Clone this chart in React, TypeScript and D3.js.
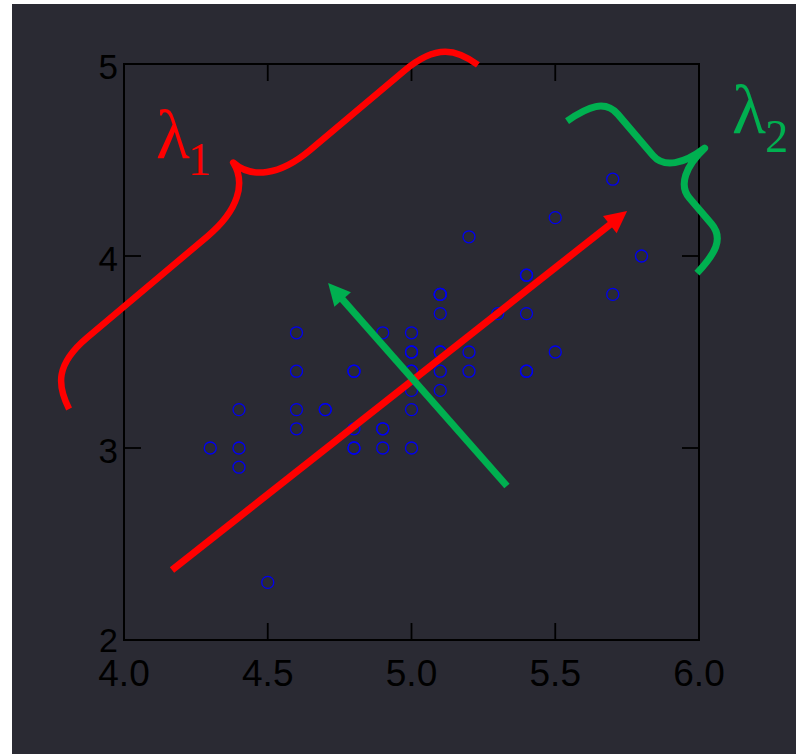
import React from "react";
import * as d3 from "d3";

// Iris setosa: sepal length (x) vs sepal width (y)
const sepalLength = [
  5.1, 4.9, 4.7, 4.6, 5.0, 5.4, 4.6, 5.0, 4.4, 4.9,
  5.4, 4.8, 4.8, 4.3, 5.8, 5.7, 5.4, 5.1, 5.7, 5.1,
  5.4, 5.1, 4.6, 5.1, 4.8, 5.0, 5.0, 5.2, 5.2, 4.7,
  4.8, 5.4, 5.2, 5.5, 4.9, 5.0, 5.5, 4.9, 4.4, 5.1,
  5.0, 4.5, 4.4, 5.0, 5.1, 4.8, 5.1, 4.6, 5.3, 5.0,
];
const sepalWidth = [
  3.5, 3.0, 3.2, 3.1, 3.6, 3.9, 3.4, 3.4, 2.9, 3.1,
  3.7, 3.4, 3.0, 3.0, 4.0, 4.4, 3.9, 3.5, 3.8, 3.8,
  3.4, 3.7, 3.6, 3.3, 3.4, 3.0, 3.4, 3.5, 3.4, 3.2,
  3.1, 3.4, 4.1, 4.2, 3.1, 3.2, 3.5, 3.6, 3.0, 3.4,
  3.5, 2.3, 3.2, 3.5, 3.8, 3.0, 3.8, 3.2, 3.7, 3.3,
];

const xTicks = [4.0, 4.5, 5.0, 5.5, 6.0];
const xTickLabels = ["4.0", "4.5", "5.0", "5.5", "6.0"];
const yTicks = [2, 3, 4, 5];
const yTickLabels = ["2", "3", "4", "5"];

// principal-component arrows (data coordinates): [x0, y0, x1, y1]
const arrowPC1 = [4.167, 2.365, 5.75, 4.234];
const arrowPC2 = [5.332, 2.802, 4.71, 3.859];
// braces (data coordinates): [xA, yA, xB, yB]
const bracePC1 = [3.809, 3.203, 5.231, 4.995];
const bracePC2 = [5.541, 4.703, 5.993, 3.911];

const W = 796;
const H = 754;
const RED = "#ff0000";
const GREEN = "#00b050";
const BG = "#2a2a33";

const x = d3.scaleLinear().domain([4, 6]).range([124, 699]);
const y = d3.scaleLinear().domain([2, 5]).range([640, 64]);

function arrowParts(a: number[], headLen: number, headHalf: number) {
  const x0 = x(a[0]), y0 = y(a[1]), x1 = x(a[2]), y1 = y(a[3]);
  const dx = x1 - x0, dy = y1 - y0;
  const len = Math.hypot(dx, dy);
  const ux = dx / len, uy = dy / len;
  const bx = x1 - ux * headLen, by = y1 - uy * headLen;
  const nx = -uy, ny = ux;
  const head = [
    [x1, y1],
    [bx + nx * headHalf, by + ny * headHalf],
    [bx - nx * headHalf, by - ny * headHalf],
  ];
  return { x0, y0, lx: x1 - ux * (headLen - 2), ly: y1 - uy * (headLen - 2), head };
}

function bracePath(
  b: number[],
  Wt: number,
  h: number,
  tuFrac: number,
  a: number,
  bb: number
) {
  const ax = x(b[0]), ay = y(b[1]), bx = x(b[2]), by = y(b[3]);
  const L = Math.hypot(bx - ax, by - ay);
  const dx = (bx - ax) / L, dy = (by - ay) / L;
  const nx = dy, ny = -dx;
  const Tu = L * tuFrac;
  const P = (u: number, v: number) =>
    `${(ax + dx * u + nx * v).toFixed(2)},${(ay + dy * u + ny * v).toFixed(2)}`;
  const mid = h + 0.4 * (Wt - h);
  return [
    `M${P(0, 0)}`,
    `C${P(0.1 * a, 0.6 * h)} ${P(0.3 * a, h)} ${P(a, h)}`,
    `L${P(Tu - bb, h)}`,
    `C${P(Tu - 0.4 * bb, h)} ${P(Tu - 0.05 * bb, mid)} ${P(Tu, Wt)}`,
    `C${P(Tu + 0.05 * bb, mid)} ${P(Tu + 0.4 * bb, h)} ${P(Tu + bb, h)}`,
    `L${P(L - a, h)}`,
    `C${P(L - 0.3 * a, h)} ${P(L - 0.1 * a, 0.6 * h)} ${P(L, 0)}`,
  ].join(" ");
}

export default function App() {
  const x0 = x(4), x1 = x(6), y0 = y(2), y1 = y(5);
  const tickLen = 17;
  const a1 = arrowParts(arrowPC1, 22, 11);
  const a2 = arrowParts(arrowPC2, 22, 11);
  const axisFont = "'Liberation Sans', Arial, Helvetica, sans-serif";
  const serif = "'Liberation Serif', 'Times New Roman', serif";

  return (
    <div style={{ position: "absolute", left: 0, top: 0 }}>
      <svg width={W} height={H} style={{ display: "block" }}>
        <rect x={0} y={0} width={W} height={H} fill="#ffffff" />
        <rect x={12} y={4} width={W - 12} height={H - 4} fill={BG} />

        {/* frame */}
        <rect
          x={x0}
          y={y1}
          width={x1 - x0}
          height={y0 - y1}
          fill="none"
          stroke="#000"
          strokeWidth={2}
        />
        {/* ticks (inward) */}
        {xTicks.map((t) => (
          <g key={"xt" + t}>
            <line x1={x(t)} x2={x(t)} y1={y0} y2={y0 - tickLen} stroke="#000" strokeWidth={1.8} />
            <line x1={x(t)} x2={x(t)} y1={y1} y2={y1 + tickLen} stroke="#000" strokeWidth={1.8} />
          </g>
        ))}
        {yTicks.map((t) => (
          <g key={"yt" + t}>
            <line x1={x0} x2={x0 + tickLen} y1={y(t)} y2={y(t)} stroke="#000" strokeWidth={1.8} />
            <line x1={x1} x2={x1 - tickLen} y1={y(t)} y2={y(t)} stroke="#000" strokeWidth={1.8} />
          </g>
        ))}
        {/* tick labels */}
        {xTicks.map((t, i) => (
          <text
            key={"xl" + t}
            x={x(t)}
            y={y0 + 46}
            textAnchor="middle"
            fontFamily={axisFont}
            fontSize={37}
            fill="#000"
          >
            {xTickLabels[i]}
          </text>
        ))}
        {yTicks.map((t, i) => (
          <text
            key={"yl" + t}
            x={x0 - 6}
            y={y(t) + (i === 0 ? 12 : 15)}
            textAnchor="end"
            fontFamily={axisFont}
            fontSize={i === 0 ? 34 : 35}
            fill="#000"
          >
            {yTickLabels[i]}
          </text>
        ))}

        {/* data points */}
        {sepalLength.map((v, i) => (
          <circle
            key={"p" + i}
            cx={x(v)}
            cy={y(sepalWidth[i])}
            r={6}
            fill="none"
            stroke="#0000f0"
            strokeWidth={1.3}
          />
        ))}

        {/* PC1 arrow */}
        <line x1={a1.x0} y1={a1.y0} x2={a1.lx} y2={a1.ly} stroke={RED} strokeWidth={7} />
        <polygon points={a1.head.map((p) => p.join(",")).join(" ")} fill={RED} />
        {/* PC2 arrow */}
        <line x1={a2.x0} y1={a2.y0} x2={a2.lx} y2={a2.ly} stroke={GREEN} strokeWidth={7} />
        <polygon points={a2.head.map((p) => p.join(",")).join(" ")} fill={GREEN} />

        {/* braces */}
        <path
          d={bracePath(bracePC1, 83, 43, 0.532, 60, 67)}
          fill="none"
          stroke={RED}
          strokeWidth={6.5}
          strokeLinejoin="round"
        />
        <path
          d={bracePath(bracePC2, 87, 43, 0.55, 28, 28)}
          fill="none"
          stroke={GREEN}
          strokeWidth={7}
          strokeLinejoin="round"
        />

        {/* labels */}
        <text x={x(4.111)} y={y(4.51)} fontFamily={serif} fontSize={70} fill={RED}>
          λ
        </text>
        <text x={x(4.223)} y={y(4.422)} fontFamily={serif} fontSize={46} fill={RED}>
          1
        </text>
        <text x={x(6.115)} y={y(4.641)} fontFamily={serif} fontSize={70} fill={GREEN}>
          λ
        </text>
        <text x={x(6.23)} y={y(4.542)} fontFamily={serif} fontSize={46} fill={GREEN}>
          2
        </text>
      </svg>
    </div>
  );
}
